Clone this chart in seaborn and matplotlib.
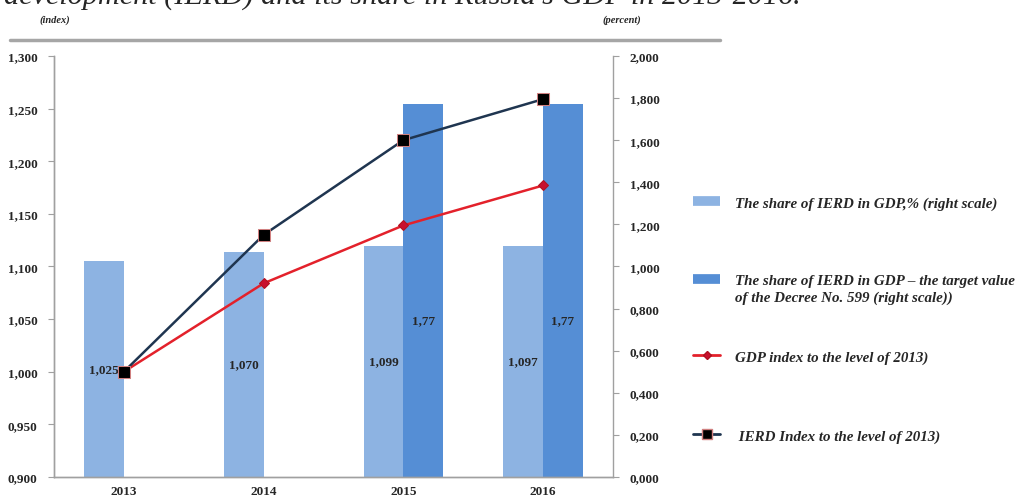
import numpy as np
import pandas as pd
import matplotlib
matplotlib.use("Agg")
import matplotlib.pyplot as plt
from matplotlib.lines import Line2D
import seaborn as sns

years = ['2013', '2014', '2015', '2016']
share_actual = [1.025, 1.070, 1.099, 1.097]
share_target = [np.nan, np.nan, 1.77, 1.77]
gdp_index = [1.000, 1.084, 1.139, 1.177]
ierd_index = [1.000, 1.130, 1.220, 1.259]

lab_actual = 'The share of IERD in GDP,% (right scale)'
lab_target = 'The share of IERD in GDP \u2013 the target value'
lab_target_2 = 'of the Decree No. 599 (right scale))'
lab_gdp = 'GDP index to the level of 2013)'
lab_ierd = ' IERD Index to the level of 2013)'

c_light = '#8db3e2'
c_dark = '#558ed5'
c_red = '#e3212b'
c_navy = '#1f3550'

sns.set_style("white")
plt.rcParams['font.family'] = ['Liberation Serif', 'DejaVu Serif']

bars = pd.DataFrame({
    'year': years * 2,
    'value': share_actual + share_target,
    'series': ['actual'] * 4 + ['target'] * 4,
})


def comma(v, d=3):
    return f"{v:.{d}f}".replace('.', ',')


fig = plt.figure(figsize=(10.22, 5.02), dpi=100)
ax = fig.add_axes([0.0528, 0.0478, 0.547, 0.8387])
ax2 = ax.twinx()

# bars on the right (percent) scale
sns.barplot(data=bars, x='year', y='value', hue='series', ax=ax2,
            palette=[c_light, c_dark], width=0.57, dodge=True,
            saturation=1, legend=False, errorbar=None, linewidth=0)
ax2.set_ylim(0, 2.0)
ax2.set_yticks(np.arange(0, 2.01, 0.2))
ax2.set_yticklabels([comma(v) for v in np.arange(0, 2.01, 0.2)])
ax2.set_ylabel('')
ax2.set_xlabel('')

# lines on the left (index) scale
xpos = np.arange(len(years))
sns.lineplot(x=xpos, y=gdp_index, ax=ax, color=c_red, linewidth=1.8,
             marker='D', markersize=5, markeredgecolor='#b01020',
             markerfacecolor='#c8102e')
sns.lineplot(x=xpos, y=ierd_index, ax=ax, color=c_navy, linewidth=1.8,
             marker='s', markersize=8, markeredgecolor='#d08080',
             markerfacecolor='black')
ax.set_ylim(0.9, 1.3)
ax.set_yticks(np.arange(0.9, 1.301, 0.05))
ax.set_yticklabels([comma(v) for v in np.arange(0.9, 1.301, 0.05)])
ax.set_zorder(ax2.get_zorder() + 1)
ax.patch.set_visible(False)

ax.set_xlim(-0.5, len(years) - 0.5)
ax.set_xticks(xpos[:-1] + 0.5)
ax.set_xticklabels([])
ax.set_xticks(xpos, minor=True)
ax.set_xticklabels(years, minor=True)
ax.tick_params(axis='x', which='minor', length=0, pad=6)
ax.tick_params(axis='x', which='major', length=5, direction='out', color='#a0a0a0')

for lbl in ax.get_yticklabels() + ax2.get_yticklabels() + ax.get_xticklabels(minor=True):
    lbl.set_fontsize(9.5)
    lbl.set_fontweight('bold')
ax.tick_params(axis='y', length=4, direction='out', color='#a0a0a0', pad=8, left=True)
ax2.tick_params(axis='y', length=4, direction='out', color='#a0a0a0', pad=8, right=True)

for a in (ax, ax2):
    a.spines['top'].set_visible(False)
    for s in ('left', 'right', 'bottom'):
        a.spines[s].set_color('#a0a0a0')
        a.spines[s].set_linewidth(1)
ax.spines['right'].set_visible(False)

# value labels
ax2.bar_label(ax2.containers[0], labels=[comma(v) for v in share_actual],
              label_type='center', fontsize=9.5, fontweight='bold')
for bar, v in zip(ax2.containers[1], [v for v in share_target if not np.isnan(v)]):
    ax2.text(bar.get_x() + bar.get_width() / 2, bar.get_height() * 0.42,
             comma(v, 2), ha='center', va='center', fontsize=9.5, fontweight='bold')

# header bits
fig.text(0.004, 1 - 4 / 502, "development (IERD) and its share in Russia's GDP in 2013-2016.",
         fontsize=21.8, fontstyle='italic', va='baseline', ha='left')
fig.text(55 / 1022, 1 - 20 / 502, '(index)', fontsize=7.5, fontstyle='italic',
         fontweight='bold', ha='center', va='center')
fig.text(622 / 1022, 1 - 20 / 502, '(percent)', fontsize=7.5, fontstyle='italic',
         fontweight='bold', ha='center', va='center')
fig.add_artist(Line2D([10 / 1022, 720 / 1022], [1 - 41 / 502] * 2,
                      color='#a6a6a6', linewidth=2.5, transform=fig.transFigure))

# legend, one entry per row so the uneven row spacing can be kept
leg_prop = dict(family='Liberation Serif', style='italic', weight='bold', size=10.8)
entries = [
    (Line2D([], [], color=c_light, linewidth=7, solid_capstyle='butt'), lab_actual, 204),
    (Line2D([], [], color=c_dark, linewidth=7, solid_capstyle='butt'), lab_target, 281),
    (Line2D([], [], color=c_red, linewidth=2, marker='D', markersize=4,
            markerfacecolor='#c8102e', markeredgecolor='#b01020'), lab_gdp, 358),
    (Line2D([], [], color=c_navy, linewidth=2, marker='s', markersize=7,
            markerfacecolor='black', markeredgecolor='#d08080'), lab_ierd, 437),
]
for h, lab, yy in entries:
    fig.legend([h], [lab], loc='center left', bbox_to_anchor=(693 / 1022, 1 - yy / 502),
               frameon=False, borderpad=0, borderaxespad=0, handlelength=1.8,
               handletextpad=1.0, prop=leg_prop)
fig.text(735 / 1022, 1 - 298 / 502, lab_target_2, ha='left', va='center', **{
    'fontsize': 10.8, 'fontstyle': 'italic', 'fontweight': 'bold'})

fig.savefig('out.png', dpi=100)
